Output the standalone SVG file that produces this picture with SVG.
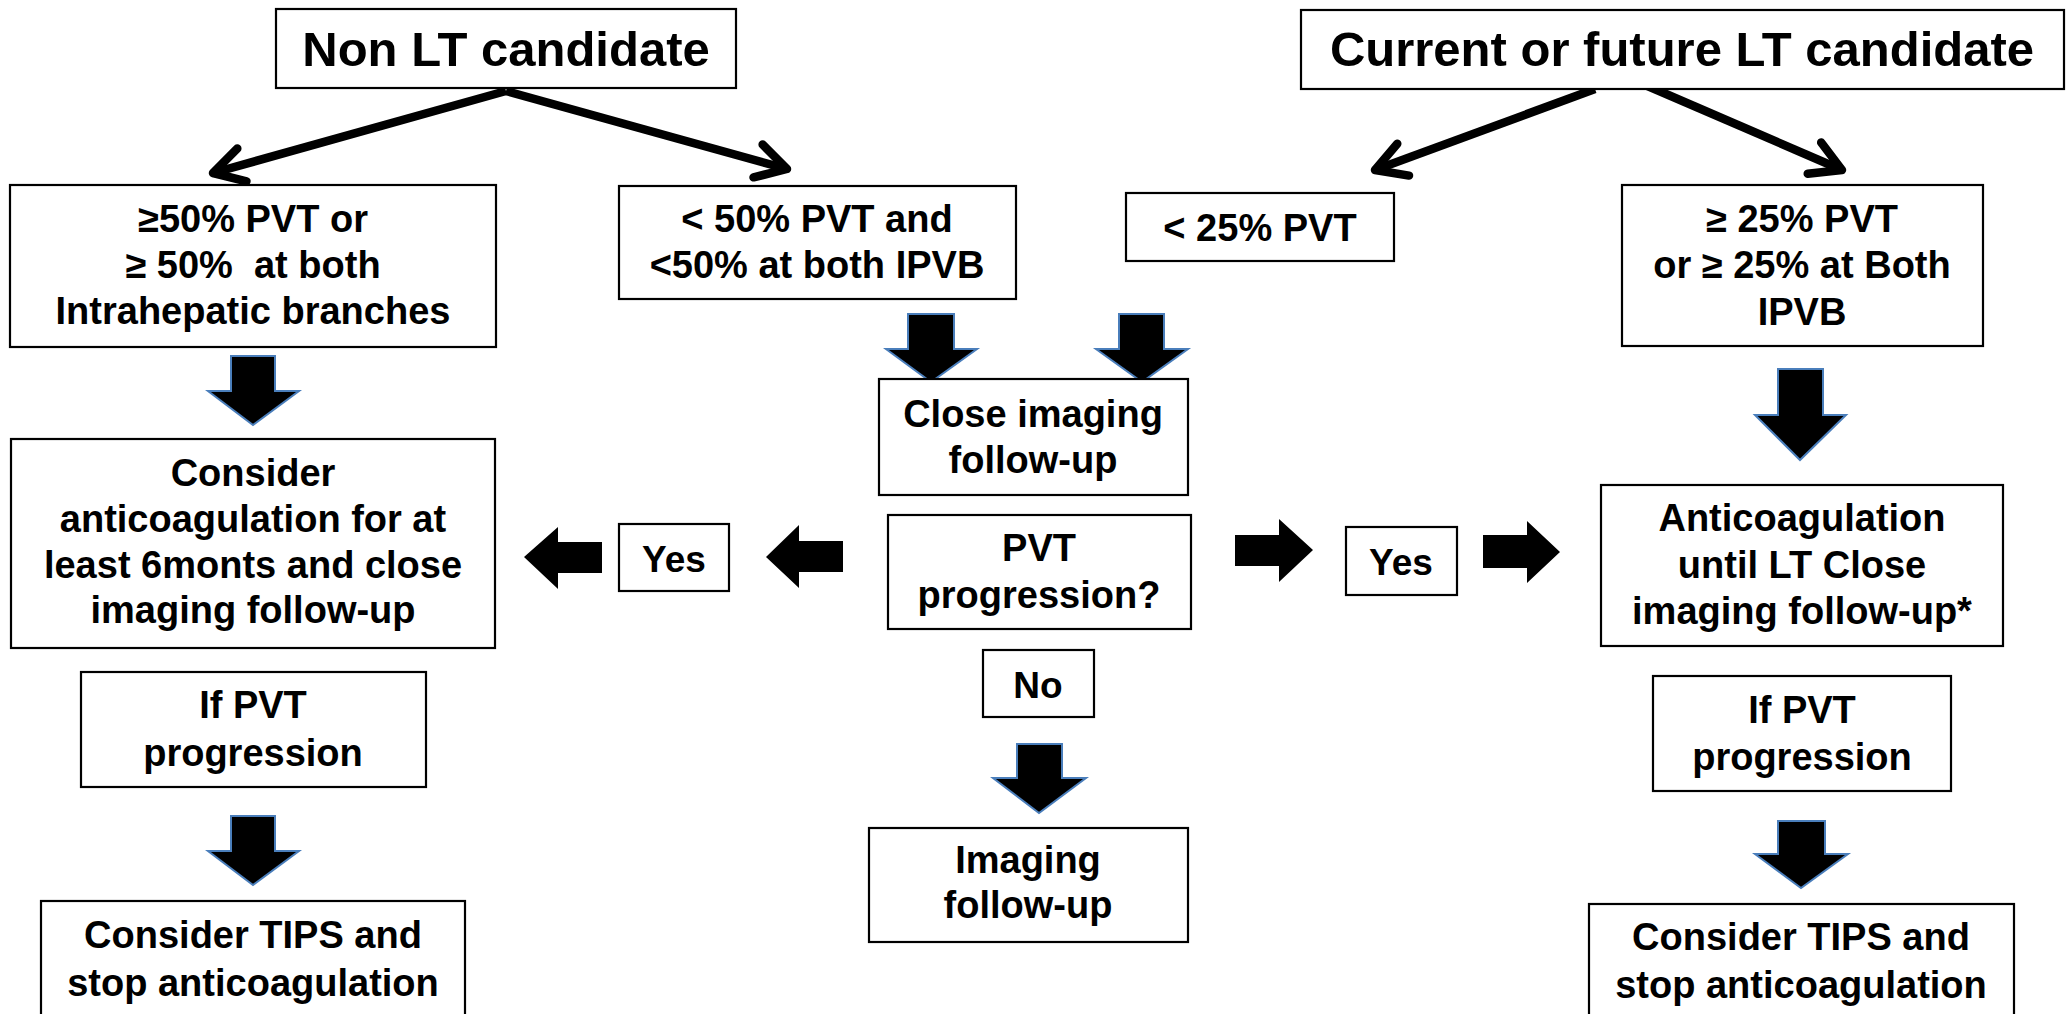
<svg xmlns="http://www.w3.org/2000/svg" width="2071" height="1014" viewBox="0 0 2071 1014">
<style>
.box{fill:#fff;stroke:#000;stroke-width:2.2}
.t{font-family:"Liberation Sans",Arial,sans-serif;font-weight:bold;font-size:38px;fill:#000;text-anchor:middle;white-space:pre}
.s{font-size:37px}
.h{font-size:49px}
.dn{fill:#000;stroke:#4A7EBB;stroke-width:2;stroke-linejoin:miter}
.sd{fill:#000;stroke:none}
.ln{fill:none;stroke:#000;stroke-width:8.5;stroke-linecap:butt}
</style>
<defs>
<marker id="open" markerUnits="userSpaceOnUse" viewBox="-45 -30 55 60" refX="0" refY="0" markerWidth="55" markerHeight="60" orient="auto" overflow="visible">
<path d="M -30 -17 L 0 0 L -30 17" fill="none" stroke="#000" stroke-width="8.5" stroke-linecap="round" stroke-linejoin="round"/>
</marker>
</defs>
<rect width="2071" height="1014" fill="#fff"/>

<g id="connectors">
<line class="ln" x1="506" y1="91" x2="213" y2="173" marker-end="url(#open)"/>
<line class="ln" x1="506" y1="91" x2="787" y2="169" marker-end="url(#open)"/>
<line class="ln" x1="1595" y1="89" x2="1375" y2="170" marker-end="url(#open)"/>
<line class="ln" x1="1622" y1="75" x2="1842" y2="170" marker-end="url(#open)"/>
<polygon class="dn" points="231,356 275,356 275,391 299,391 253,425 208,391 231,391"/>
<polygon class="dn" points="908,314 954,314 954,349 977,349 931,382 886,349 908,349"/>
<polygon class="dn" points="1119,314 1164,314 1164,349 1188,349 1142,382 1096,349 1119,349"/>
<polygon class="dn" points="1778,369 1823,369 1823,415 1846,415 1800,460 1755,415 1778,415"/>
<polygon class="dn" points="231,816 275,816 275,851 299,851 253,885 208,851 231,851"/>
<polygon class="dn" points="1017,744 1062,744 1062,778 1086,778 1039,813 993,778 1017,778"/>
<polygon class="dn" points="1778,821 1825,821 1825,854 1848,854 1801,888 1755,854 1778,854"/>
<polygon class="sd" points="602,542 602,573 558,573 558,589 524,557 558,527 558,542"/>
<polygon class="sd" points="843,541 843,572 799,572 799,588 766,557 799,525 799,541"/>
<polygon class="sd" points="1235,535 1279,535 1279,519 1313,550 1279,582 1279,566 1235,566"/>
<polygon class="sd" points="1483,535 1527,535 1527,521 1560,552 1527,583 1527,568 1483,568"/>
</g>

<g id="n_nonlt"><rect class="box" x="276" y="9" width="460" height="79"/><text class="t h" x="506" y="66">Non LT candidate</text></g>
<g id="n_current"><rect class="box" x="1301" y="10" width="763" height="79"/><text class="t h" x="1682" y="66">Current or future LT candidate</text></g>
<g id="n_ge50"><rect class="box" x="10" y="185" width="486" height="162"/>
<text class="t" x="253" y="232">≥50% PVT or</text><text class="t" x="253" y="278">≥ 50%  at both</text><text class="t" x="253" y="324">Intrahepatic branches</text></g>
<g id="n_lt50"><rect class="box" x="619" y="186" width="397" height="113"/>
<text class="t" x="817" y="232">&lt; 50% PVT and</text><text class="t" x="817" y="278">&lt;50% at both IPVB</text></g>
<g id="n_lt25"><rect class="box" x="1126" y="193" width="268" height="68"/><text class="t" x="1260" y="241">&lt; 25% PVT</text></g>
<g id="n_ge25"><rect class="box" x="1622" y="185" width="361" height="161"/>
<text class="t" x="1802" y="232">≥ 25% PVT</text><text class="t" x="1802" y="278">or ≥ 25% at Both</text><text class="t" x="1802" y="325">IPVB</text></g>
<g id="n_close"><rect class="box" x="879" y="379" width="309" height="116"/>
<text class="t" x="1033" y="427">Close imaging</text><text class="t" x="1033" y="473">follow-up</text></g>
<g id="n_pvt"><rect class="box" x="888" y="515" width="303" height="114"/>
<text class="t" x="1039" y="561">PVT</text><text class="t" x="1039" y="608">progression?</text></g>
<g id="n_no"><rect class="box" x="983" y="650" width="111" height="67"/><text class="t s" x="1038" y="698">No</text></g>
<g id="n_imaging"><rect class="box" x="869" y="828" width="319" height="114"/>
<text class="t" x="1028" y="873">Imaging</text><text class="t" x="1028" y="918">follow-up</text></g>
<g id="n_consider"><rect class="box" x="11" y="439" width="484" height="209"/>
<text class="t" x="253" y="486">Consider</text><text class="t" x="253" y="532">anticoagulation for at</text><text class="t" x="253" y="578">least 6monts and close</text><text class="t" x="253" y="623">imaging follow-up</text></g>
<g id="n_yes_l"><rect class="box" x="619" y="524" width="110" height="67"/><text class="t s" x="674" y="572">Yes</text></g>
<g id="n_yes_r"><rect class="box" x="1346" y="527" width="111" height="68"/><text class="t s" x="1401" y="575">Yes</text></g>
<g id="n_anticoag_lt"><rect class="box" x="1601" y="485" width="402" height="161"/>
<text class="t" x="1802" y="531">Anticoagulation</text><text class="t" x="1802" y="578">until LT Close</text><text class="t" x="1802" y="624">imaging follow-up*</text></g>
<g id="n_ifpvt_l"><rect class="box" x="81" y="672" width="345" height="115"/>
<text class="t" x="253" y="718">If PVT</text><text class="t" x="253" y="766">progression</text></g>
<g id="n_ifpvt_r"><rect class="box" x="1653" y="676" width="298" height="115"/>
<text class="t" x="1802" y="723">If PVT</text><text class="t" x="1802" y="770">progression</text></g>
<g id="n_tips_l"><rect class="box" x="41" y="901" width="424" height="130"/>
<text class="t" x="253" y="948">Consider TIPS and</text><text class="t" x="253" y="996">stop anticoagulation</text></g>
<g id="n_tips_r"><rect class="box" x="1589" y="904" width="425" height="130"/>
<text class="t" x="1801" y="950">Consider TIPS and</text><text class="t" x="1801" y="998">stop anticoagulation</text></g>
</svg>
